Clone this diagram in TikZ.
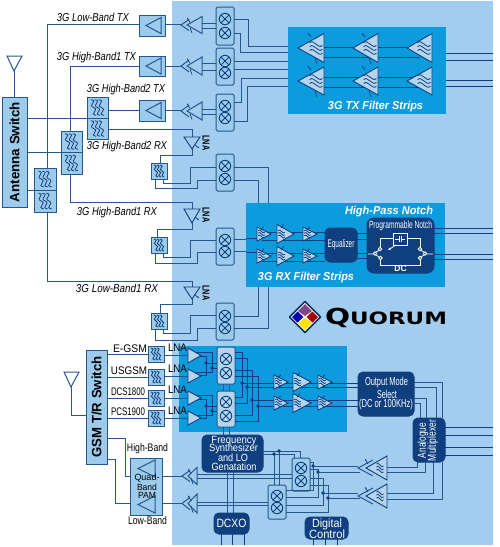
\documentclass[tikz,border=0pt]{standalone}
\usepackage{graphicx}
\usepackage{fontspec}
\setmainfont{Liberation Sans}
\newfontfamily\logofont{DejaVu Sans}
\usetikzlibrary{arrows.meta}
\definecolor{bgc}{HTML}{A3CDEE}
\definecolor{stripc}{HTML}{0C9BDD}
\definecolor{navyc}{HTML}{0F3F7E}
\definecolor{wirec}{HTML}{24578F}
\definecolor{boxc}{HTML}{9CCBEC}
\definecolor{palec}{HTML}{B5D5EE}
\tikzset{
  wire/.style={draw=wirec,line width=1pt},
  thinw/.style={draw=navyc,line width=.7pt},
  wavel/.style={draw=navyc,line width=.8pt},
  block/.style={draw=wirec,line width=1pt,fill=boxc,inner sep=0pt,outer sep=0pt,align=center},
  mixbox/.style={block,rounded corners=1.5pt,draw=wirec},
  navy/.style={fill=navyc,draw=navyc,rounded corners=5pt,inner sep=0pt,outer sep=0pt,text=white,align=center},
  strip/.style={fill=stripc,inner sep=0pt,outer sep=0pt},
  lbl/.style={inner sep=0pt,outer sep=0pt,text=black},
  ital/.style={lbl,font=\fontsize{11.5}{11.5}\selectfont\itshape},
  whit/.style={inner sep=0pt,outer sep=0pt,text=white,font=\fontsize{11.5}{11.5}\selectfont\bfseries\itshape},
  tria/.style={draw=navyc,line width=.9pt,fill=palec,line join=miter},
  hollow/.style={draw=wirec,line width=1pt,line join=miter},
  ndot/.style={fill=navyc,draw=none},
  wht/.style={draw=white,line width=.8pt}
}
\newcommand\fitw[2]{\resizebox{#1pt}{\height}{#2}}
\newcommand\blk[7][]{\node[block,#1,minimum width={(#5)-(#3)},minimum height={(#6)-(#4)}] (#2) at ({(#3+#5)/2},{(#4+#6)/2}) {#7};}
\newcommand\wvv[4]{\begin{scope}[shift={({#1},{#2})},xscale=#3,yscale=#4]
  \foreach \i in {-1,0,1} \draw[wavel] (\i*3-2,-6) .. controls +(6,1) and +(-5,-2) .. (\i*3,0) .. controls +(5,2) and +(-6,-1) .. (\i*3+2,6);
\end{scope}}
\newcommand\wvh[4]{\begin{scope}[shift={({#1},{#2})},xscale=#3,yscale=#4]
  \foreach \i in {-1,0,1} \draw[wavel] (-6,\i*3-1) .. controls +(2,-2) and +(-2,-1) .. (0,\i*3) .. controls +(2,1) and +(-2,2) .. (6,\i*3+1);
\end{scope}}
\newcommand\filt[6]{\blk{#1}{#2}{#3}{#4}{#5}{}\wvv{(#2+#4)/2}{(#3+#5)/2}{#6}{#6}}
\newcommand\mixsym[2]{\draw[draw=navyc,line width=.9pt,shift={({#1},{#2})}] (0,0) circle[radius=5.7] (-4,-4)--(4,4) (-4,4)--(4,-4);}
\newcommand\mixer[7][]{\blk[mixbox,#1]{#2}{#3}{#4}{#3+18}{#5}{}\mixsym{#3+9}{#6}\mixsym{#3+9}{#7}}
\newcommand\dotp[2]{\fill[ndot] ({#1},{#2}) circle[radius=1.8];}
% left pointing transmit amplifier in a box
\newcommand\pabox[3]{\blk{#1}{139}{#2}{165}{#3}{}\draw[hollow] (161,{(#2+#3)/2-8}) -- (161,{(#2+#3)/2+8}) -- (146,{(#2+#3)/2}) -- cycle;}
% left pointing driver: apex, base, centre, half height
\newcommand\drv[4]{\draw[hollow] ({#1+8},{#3-#4*.65}) -- (#1,#3) -- ({#1+8},{#3+#4*.65});
  \draw[hollow] (#2,{#3-#4}) -- (#2,{#3+#4}) -- ({#1+6},#3) -- cycle;
  \draw[thinw,-{Stealth[length=2pt]}] ({#1+9},{#3-#4*.3}) -- ({#1+6},{#3-#4*.85});
  \draw[thinw] ({#1+9},{#3+#4*.3}) -- ({#1+11},{#3+#4*.95});}
% left pointing filter strip triangle with waves
\newcommand\ltri[4]{\draw[tria] (#1,#3) -- (#2,{#3-#4}) -- (#2,{#3+#4}) -- cycle;\wvh{#2-8}{#3}{1.05}{1.3}}
\newcommand\ctl[2]{\draw[thinw,-{Stealth[length=2pt]}] ({#1+1},{#2-11}) -- ({#1-2},{#2-15});\draw[thinw] ({#1+5},{#2+10}) -- ({#1+7},{#2+16});}
% right pointing small strip amplifier
\newcommand\ramp[4]{\draw[tria] (#1,{#3-#4}) -- (#1,{#3+#4}) -- (#2,#3) -- cycle;\wvh{#1+4.5}{#3}{.55}{.85}
  \draw[thinw,-{Stealth[length=1.5pt]}] ({#1+4},{#3-#4*.6}) -- ({#1+7},{#3-#4-.5});}
\newcommand\lnaUp[3]{\draw[tria,fill=none,draw=navyc] (184,#1) -- (200,#1) -- (192,#2) -- cycle;
  \draw[thinw,-{Stealth[length=2pt]}] (195,{#1+8}) -- (199,{#1+11});
  \node[lbl,font=\fontsize{10}{10}\selectfont\bfseries,rotate=-90] (#3) at (206,{#1+6}) {\fitw{15}{LNA}};}
\begin{document}
\begin{tikzpicture}[x=1pt,y=-1pt]
\useasboundingbox (0,0) rectangle (500,547);
\fill[bgc] (172,1) rectangle (493,545);
% strips
\node[strip,minimum width=158,minimum height=87] (txs) at (367,70.5) {};
\node[strip,minimum width=199,minimum height=84] (rxs) at (345.5,245) {};
\node[strip,minimum width=168,minimum height=86] (gs) at (263,389) {};
% antenna switch and filters
\blk{ant}{2}{97}{27}{207}{}
\node[lbl,font=\fontsize{13.5}{13.5}\selectfont\bfseries,rotate=90] (antt) at (ant.center) {\fitw{100}{Antenna Switch}};
\filt{fa}{87}{97}{108}{118}{1.3}
\filt{fb}{87}{118}{108}{139}{1.3}
\filt{fc}{61}{131}{82}{152}{1.3}
\filt{fd}{61}{152}{82}{174}{1.3}
\filt{fe}{34}{168}{56}{190}{1.3}
\filt{ff}{34}{190}{56}{212}{1.3}
% PAs
\pabox{pa}{15}{36}
\pabox{pb}{56}{76}
\pabox{pc}{100}{121}
% mixers
\mixer{ma}{216}{7}{45}{19}{33}
\mixer{mb}{216}{48}{85}{61}{73}
\mixer{mc}{216}{94}{131}{106}{118}
\mixer{md}{216}{154}{191}{166}{179}
\mixer{me}{216}{228}{265}{240}{252}
\mixer{mf}{216}{303}{340}{316}{328}
% small filters
\filt{sa}{151}{163}{167}{179}{1}
\filt{sb}{151}{237}{167}{253}{1}
\filt{sc}{151}{313}{167}{329}{1}
% navy blocks
\blk[navy]{eq}{325}{228}{357}{262}{\fontsize{11}{11}\selectfont\fitw{27}{Equalizer}}
\blk[navy,rounded corners=7pt]{notch}{367}{218}{434}{273}{}
\node[whit,font=\fontsize{10.5}{10.5}\selectfont] (nt) at (400.5,226) {\fitw{63}{Programmable Notch}};
\node[whit,font=\fontsize{8.5}{8.5}\selectfont\bfseries] (dc) at (400.5,269) {DC};
\blk[navy]{fs}{202}{435}{263}{472}{}
\node[whit,font=\fontsize{10.5}{10.5}\selectfont] (fs1) at (234,440.5) {\fitw{45}{Frequency}};
\node[whit,font=\fontsize{10.5}{10.5}\selectfont] (fs2) at (233.5,449) {\fitw{49}{Synthesizer}};
\node[whit,font=\fontsize{10.5}{10.5}\selectfont] (fs3) at (233,458) {\fitw{30}{and LO}};
\node[whit,font=\fontsize{10.5}{10.5}\selectfont] (fs4) at (234,466.5) {\fitw{45}{Genatation}};
\blk[navy]{dcxo}{214}{513}{249}{534}{\fontsize{12}{12}\selectfont\fitw{30}{DCXO}}
\blk[navy]{dig}{305}{517}{348}{539}{}
\node[whit,font=\fontsize{12}{12}\selectfont] (dg1) at (327,524) {\fitw{30}{Digital}};
\node[whit,font=\fontsize{12}{12}\selectfont] (dg2) at (327,534) {\fitw{36}{Control}};
\blk[navy]{oms}{358}{372}{414}{416}{}
\node[whit,font=\fontsize{11.5}{11.5}\selectfont] (om1) at (386.5,383) {\fitw{43}{Output Mode}};
\node[whit,font=\fontsize{11.5}{11.5}\selectfont] (om2) at (387,394) {\fitw{20}{Select}};
\node[whit,font=\fontsize{11.5}{11.5}\selectfont] (om3) at (386,405) {\fitw{54}{(DC or 100KHz)}};
\blk[navy]{mux}{413}{418}{445}{462}{}
\node[whit,font=\fontsize{11.5}{11.5}\selectfont,rotate=90] (mx1) at (423,440.5) {\fitw{35}{Analogue}};
\node[whit,font=\fontsize{11.5}{11.5}\selectfont,rotate=90] (mx2) at (433,440.5) {\fitw{41}{Multiplexer}};
% GSM
\blk{gsm}{86}{350}{107}{464}{}
\node[lbl,font=\fontsize{13.5}{13.5}\selectfont\bfseries,rotate=90] (gsmt) at (gsm.center) {\fitw{101}{GSM T/R Switch}};
\filt{ga}{148}{346}{164}{362}{1}
\filt{gb}{148}{369}{164}{385}{1}
\filt{gc}{148}{390}{164}{406}{1}
\filt{gd}{148}{410}{164}{426}{1}
\mixer[fill=palec]{mg}{217}{347}{384}{359}{373}
\mixer[fill=palec]{mh}{217}{391}{427}{402}{416}
\mixer{mi}{292}{458}{491}{468}{481}
\mixer{mj}{268}{485}{519}{496}{508}
\blk{pam}{130}{458}{162}{515}{}
\draw[hollow] (155,460) -- (155,477) -- (138,468.5) -- cycle;
\draw[hollow] (155,496) -- (155,513) -- (138,504.5) -- cycle;
% antennas
\coordinate (antA) at (14,71);
\coordinate (antB) at (71,387);
\draw[hollow] (7,56) -- (22,56) -- (antA) -- cycle;
\draw[hollow] (64,372) -- (79,372) -- (antB) -- cycle;
\draw[wire] (antA) -- (ant.north -| antA);
\draw[wire] (antB) |- (gsm.west |- 0,415);
% 3G front end wires
\draw[wire] (pa.west |- 0,24) -| (47,0 |- fe.north);
\draw[wire] (pb.west |- 0,66) -| (70,0 |- fc.north);
\draw[wire] (ant.east |- 0,118) -- (fa.south west);
\draw[wire] (ant.east |- 0,152) -- (fc.south west);
\draw[wire] (ant.east |- 0,190) -- (fe.south west);
\draw[wire] (fa.east |- 0,110) -- (pc.west |- 0,110);
\draw[wire] (fb.east |- 0,129) -- (192,129) -- (192,137);
\draw[wire] (192,149) -- (192,155) -| (160,0 |- sa.north);
\draw[wire] (70,0 |- fd.south) |- (192,202) -- (192,209);
\draw[wire] (192,223) -- (192,229) -| (157,0 |- sb.north);
\draw[wire] (47,0 |- ff.south) |- (192,281) -- (192,287);
\draw[wire] (192,299) -- (192,304) -| (160,0 |- sc.north);
% PA to driver, driver to mixer
\draw[wire] (pa.east |- 0,24) -- (181,24);
\draw[wire] (pb.east |- 0,66) -- (181,66);
\draw[wire] (pc.east |- 0,110) -- (181,110);
\draw[wire] (ma.west |- 0,23) -- (202,23) (ma.west |- 0,28) -- (202,28);
\draw[wire] (mb.west |- 0,63) -- (202,63) (mb.west |- 0,70) -- (202,70);
\draw[wire] (mc.west |- 0,109) -- (202,109) (mc.west |- 0,114) -- (202,114);
% mixers to TX strip
\draw[wire] (ma.east |- 0,19) -| (248,46) -- (txs.west |- 0,46);
\draw[wire] (ma.east |- 0,33) -| (240,52) -- (txs.west |- 0,52);
\draw[wire] (mb.east |- 0,61) -- (txs.west |- 0,61);
\draw[wire] (mb.east |- 0,69) -- (txs.west |- 0,69);
\draw[wire] (mc.east |- 0,102) -| (241,78) -- (txs.west |- 0,78);
\draw[wire] (mc.east |- 0,121) -| (247,86) -- (txs.west |- 0,86);
% RX filter to mixer
\draw[wire] (md.west |- 0,167) -| (190,183) -| (163,0 |- sa.south);
\draw[wire] (md.west |- 0,180) -| (197,188) -| (155,0 |- sa.south);
\draw[wire] (me.west |- 0,240) -| (190,257) -| (163,0 |- sb.south);
\draw[wire] (me.west |- 0,252) -| (197,263) -| (155,0 |- sb.south);
\draw[wire] (mf.west |- 0,315) -| (190,333) -| (163,0 |- sc.south);
\draw[wire] (mf.west |- 0,328) -| (197,340) -| (155,0 |- sc.south);
% RX mixers to strip
\draw[wire] (md.east |- 0,167) -| (268,0 |- rxs.north);
\draw[wire] (md.east |- 0,180) -| (258,0 |- rxs.north);
\draw[wire] (me.east |- 0,239) -- (rxs.west |- 0,239);
\draw[wire] (me.east |- 0,251) -- (rxs.west |- 0,251);
\draw[wire] (mf.east |- 0,316) -| (258,0 |- rxs.south);
\draw[wire] (mf.east |- 0,328) -| (268,0 |- rxs.south);
% TX strip wires and outputs
\coordinate (txr) at (493,0);
\foreach \y in {47,57,77,87} \draw[draw=navyc,line width=1pt] (318,\y) -- (420,\y);
\foreach \y in {53,60,80,86} \draw[wire,draw=navyc] (txs.east |- 0,\y) -- (txr |- 0,\y);
% RX strip wires
\draw[wire,draw=navyc] (rxs.west |- 0,238) -- (258,238) (rxs.west |- 0,252) -- (258,252);
\foreach \y in {232,240,253,261} \draw[draw=navyc,line width=1pt] (262,\y) -- (eq.west |- 0,\y);
\foreach \y in {233,239,253,258} \draw[draw=navyc,line width=1pt] (eq.east |- 0,\y) -- (notch.west |- 0,\y);
\foreach \y in {228,233,254,259} \draw[wire,draw=navyc] (notch.east |- 0,\y) -- (txr |- 0,\y);
% GSM front end
\draw[wire] (gsm.east |- 0,354) -- (ga.west |- 0,354);
\draw[wire] (gsm.east |- 0,377) -- (gb.west |- 0,377);
\draw[wire] (gsm.east |- 0,398) -- (gc.west |- 0,398);
\draw[wire] (gsm.east |- 0,418) -- (gd.west |- 0,418);
\draw[wire] (ga.east |- 0,355) -- (190,355);
\draw[wire] (gb.east |- 0,376) -- (190,376);
\draw[wire] (gc.east |- 0,398) -- (190,398);
\draw[wire] (gd.east |- 0,418) -- (190,418);
\foreach \d in {0,43}{
  \draw[draw=navyc,line width=1pt] (196,{352+\d}) -| (212,{368+\d}) -- (217,{368+\d});
  \draw[draw=navyc,line width=1pt] (196,{356+\d}) -| (206,{363+\d}) -- (217,{363+\d});
  \draw[draw=navyc,line width=1pt] (196,{375+\d}) -| (206,{363+\d});
  \draw[draw=navyc,line width=1pt] (196,{372+\d}) -| (212,{368+\d});
  \dotp{206}{363+\d}\dotp{212}{368+\d}
}
% GSM mixers outputs
\draw[draw=navyc,line width=1pt] (mg.east |- 0,352) -| (242,397) -- (mh.east |- 0,397);
\draw[draw=navyc,line width=1pt] (mg.east |- 0,358) -| (247,403) -- (mh.east |- 0,403);
\draw[draw=navyc,line width=1pt] (mg.east |- 0,370) -| (252,415) -- (mh.east |- 0,415);
\draw[draw=navyc,line width=1pt] (mg.east |- 0,376) -| (258,421) -- (mh.east |- 0,421);
\foreach \x/\y in {242/383,247/387,252/400,258/406}{
  \draw[draw=navyc,line width=1pt] (\x,\y) -- (oms.west |- 0,\y);
  \dotp{\x}{\y}
}
% synthesiser links
\draw[wire] (mg.south -| 223,0) -- (mh.north -| 223,0);
\draw[wire] (mg.south -| 229,0) -- (mh.north -| 229,0);
\draw[wire] (mh.south -| 223,0) -- (fs.north -| 223,0);
\draw[wire] (mh.south -| 229,0) -- (fs.north -| 229,0);
\draw[wire] (fs.south -| 227,0) -- (dcxo.north -| 227,0);
\draw[wire] (fs.south -| 233,0) -- (dcxo.north -| 233,0);
\draw[wire] (fs.east |- 0,451) -| (300,0 |- mi.north);
\draw[wire] (fs.east |- 0,454) -| (294,0 |- mi.north);
\draw[wire] (279,451) -- (mj.north -| 279,0);
\draw[wire] (274,454) -- (mj.north -| 274,0);
\dotp{279}{451}\dotp{274}{454}
% PAM
\draw[wire] (gsm.east |- 0,438) -| (125,476) -- (pam.west |- 0,476);
\draw[wire] (gsm.east |- 0,459) -| (115,503) -- (pam.west |- 0,503);
\draw[wire] (pam.east |- 0,476) -- (182,476);
\draw[wire] (pam.east |- 0,503) -- (182,503);
\draw[wire] (197,474) -- (mi.west |- 0,474);
\draw[wire] (197,478) -- (mi.west |- 0,478);
\draw[wire] (197,502) -- (mj.west |- 0,502);
\draw[wire] (197,505) -- (mj.west |- 0,505);
% I/Q mixers out
\draw[wire] (mi.east |- 0,462) -| (313,490) -- (mj.east |- 0,490);
\draw[wire] (mi.east |- 0,469) -| (318,497) -- (mj.east |- 0,497);
\draw[wire] (mi.east |- 0,478) -| (323,505) -- (mj.east |- 0,505);
\draw[wire] (mi.east |- 0,485) -| (328,512) -- (mj.east |- 0,512);
\draw[wire] (313,466) -- (358,466);
\draw[wire] (318,472) -- (360,472);
\draw[wire] (323,493) -- (358,493);
\draw[wire] (328,498) -- (360,498);
\dotp{313}{466}\dotp{318}{472}\dotp{323}{493}\dotp{328}{498}
% output mode to multiplexer
\draw[wire] (oms.east |- 0,382) -| (442,0 |- mux.north);
\draw[wire] (oms.east |- 0,387) -| (436,0 |- mux.north);
\draw[wire] (oms.east |- 0,398) -| (426,0 |- mux.north);
\draw[wire] (oms.east |- 0,403) -| (420,0 |- mux.north);
\draw[wire] (417,0 |- mux.south) |- (387,467);
\draw[wire] (425,0 |- mux.south) |- (387,472);
\draw[wire] (433,0 |- mux.south) |- (387,493);
\draw[wire] (442,0 |- mux.south) |- (387,499);
\foreach \y in {427,435,447,455} \draw[wire,draw=navyc] (mux.east |- 0,\y) -- (txr |- 0,\y);
% bottom pins
\foreach \x in {221,232,244} \draw[wire,draw=navyc] (dcxo.south -| \x,0) -- (\x,545);
\foreach \x in {313,325,337} \draw[wire,draw=navyc] (dig.south -| \x,0) -- (\x,545);
% TX drivers
\drv{181}{202}{25}{8.5}
\drv{181}{202}{66}{9}
\drv{181}{202}{111}{9}
% GSM drivers
\drv{182}{197}{476}{8.5}
\drv{182}{197}{503.5}{9.5}
\draw[hollow] (373,460) -- (358,468) -- (373,476) ;
\draw[thinw,-{Stealth[length=2pt]}] (368,464) -- (365,459);
\draw[hollow] (373,488) -- (358,496) -- (373,504) ;
\draw[thinw,-{Stealth[length=2pt]}] (368,492) -- (365,487);
\draw[tria] (387,456) -- (387,480) -- (366,468) -- cycle; \wvh{380}{468}{.6}{1}
\draw[tria] (387,484) -- (387,508) -- (366,496) -- cycle; \wvh{380}{496}{.6}{1}
% LNAs 3G
\lnaUp{137}{149}{la}
\lnaUp{209}{223}{lb}
\lnaUp{287}{299}{lc}
% TX strip triangles
\foreach \ay/\h in {48/14.5,81/14}{
  \ltri{298}{324}{\ay}{\h}\ctl{310}{\ay}
  \ltri{353}{378}{\ay}{\h}\ctl{364}{\ay}
  \ltri{407}{432}{\ay}{\h}
}
% RX strip amps
\foreach \ay in {234,256}{
  \ramp{257}{271}{\ay}{7}
  \ramp{277}{294}{\ay}{9.5}
  \ramp{303}{317}{\ay}{7}
}
% GSM strip amps
\foreach \ay in {382,403}{
  \ramp{274}{288}{\ay}{7}
  \ramp{293}{311}{\ay}{9.5}
  \ramp{318}{332}{\ay}{7}
}
% GSM LNA triangles
\draw[tria] (188,348) -- (188,363) -- (201,355.5) -- cycle;
\draw[tria] (188,369) -- (188,383) -- (201,376) -- cycle;
\draw[tria] (188,391) -- (188,405) -- (201,398) -- cycle;
\draw[tria] (188,411) -- (188,425) -- (201,418) -- cycle;
% notch circuit
\coordinate (nc) at (400,239);
\draw[wht] (393,233) rectangle (407,245);
\draw[wht] (395,239) -- (399,239) (399,236) -- (399,242) (401,236) -- (401,242) (401,239) -- (405,239);
\draw[wht] (393,238) -| (380,247) (407,238) -| (420,247);
\draw[wht] (380,249) circle[radius=1.7] (420,249) circle[radius=1.7] (375,253.5) circle[radius=1.7] (425,253.5) circle[radius=1.7] (380.5,258) circle[radius=1.7] (420,258) circle[radius=1.7];
\draw[wht] (368,254) -- (373,254) (427,254) -- (433,254) (376,252) -- (379,250.5) (424,252) -- (421,250.5) (376,255) -- (379,257) (424,255) -- (421,257);
\draw[wht] (380.5,260) |- (420,265) -- (420,260);
\draw[wht,-{Stealth[length=3pt]}] (396,245) -- (388,250);
% labels
\node[ital] (t1) at (93,17) {\fitw{72}{3G Low-Band TX}};
\node[ital] (t2) at (96.5,58) {\fitw{79}{3G High-Band1 TX}};
\node[ital] (t3) at (126,90) {\fitw{78}{3G High-Band2 TX}};
\node[ital] (t4) at (127,147) {\fitw{80}{3G High-Band2 RX}};
\node[ital] (t5) at (117,213) {\fitw{80}{3G High-Band1 RX}};
\node[ital] (t6) at (117,288) {\fitw{82}{3G Low-Band1 RX}};
\node[whit] (w1) at (375.5,107) {\fitw{95}{3G TX Filter Strips}};
\node[whit] (w2) at (389,212) {\fitw{88}{High-Pass Notch}};
\node[whit] (w3) at (306,278) {\fitw{96}{3G RX Filter Strips}};
\node[lbl,font=\fontsize{11}{11}\selectfont] (g1) at (130,349) {\fitw{34}{E-GSM}};
\node[lbl,font=\fontsize{11}{11}\selectfont] (g2) at (129,371) {\fitw{36}{USGSM}};
\node[lbl,font=\fontsize{11}{11}\selectfont] (g3) at (128,392) {\fitw{34}{DCS1800}};
\node[lbl,font=\fontsize{11}{11}\selectfont] (g4) at (128,412) {\fitw{34}{PCS1900}};
\foreach \y/\n in {348/a,369/b,390/c,411/d}
  \node[lbl,font=\fontsize{11}{11}\selectfont] (ln\n) at (177.5,\y) {\fitw{19}{LNA}};
\node[lbl,font=\fontsize{11}{11}\selectfont] (hb) at (147.5,449) {\fitw{41}{High-Band}};
\node[lbl,font=\fontsize{11}{11}\selectfont] (lob) at (147.5,521) {\fitw{39}{Low-Band}};
\node[lbl,font=\fontsize{9}{9}\selectfont] (q1) at (147,478.5) {\fitw{25}{Quad-}};
\node[lbl,font=\fontsize{9}{9}\selectfont] (q2) at (147,487) {\fitw{20}{Band}};
\node[lbl,font=\fontsize{9}{9}\selectfont] (q3) at (147,495) {\fitw{18}{PAM}};
% logo
\coordinate (lg) at (305,317);
\draw[fill=white,draw=navyc!80!black,line width=1.6pt,line join=round] (305,301.5) -- (320.5,317) -- (305,332.5) -- (289.5,317) -- cycle;
\fill[fill=violet!45!gray] (305,304) -- (312,311) -- (305,316) -- (298,311) -- cycle;
\fill[fill=red!65!black] (312.5,311.5) -- (318,317) -- (312.5,322.5) -- (306.5,317) -- cycle;
\fill[fill=yellow!85!orange] (305,318) -- (312,323) -- (305,330) -- (298,323) -- cycle;
\fill[fill=blue!70!black] (297.5,311.5) -- (303.5,317) -- (297.5,322.5) -- (292,317) -- cycle;
\node[lbl,font=\logofont\bfseries] (qu) at (386,318) {\fitw{122}{{\fontsize{22}{22}\selectfont Q}{\fontsize{17}{17}\selectfont UORUM}}};
\end{tikzpicture}
\end{document}
